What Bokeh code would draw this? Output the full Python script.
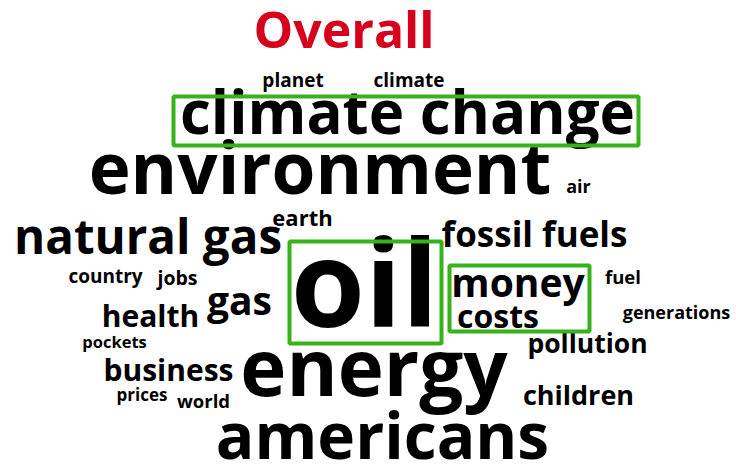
from bokeh.plotting import figure
from bokeh.models import ColumnDataSource, Range1d
from bokeh.core.properties import value
from bokeh.embed import file_html
from bokeh.resources import INLINE

# ---- data ----
title_text = ["Overall"]
title_size = [50]
title_x = [343.5]
title_y = [48]

words = ["planet", "climate", "climate change", "environment", "air", "earth",
         "natural gas", "fossil fuels", "oil", "money", "costs", "fuel",
         "generations", "country", "jobs", "gas", "health", "pockets",
         "pollution", "business", "energy", "prices", "world", "children",
         "americans"]
sizes = [19, 19, 60, 71, 18, 22,
         47.5, 35, 120, 39, 32, 18.5,
         18, 19, 19.5, 39, 30, 16.5,
         26.5, 30, 78, 17, 18.5, 27,
         64]
word_x = [292.5, 408.5, 407, 319.5, 578, 302,
          147.5, 534, 364, 517.5, 497.5, 622.5,
          676, 105, 177, 239, 150, 114,
          587, 168, 373.5, 141.5, 203, 578,
          382]
word_y = [87, 87, 134, 194, 193, 225,
          254, 247, 328, 297, 328, 283,
          319, 283, 285, 315, 327, 348,
          353, 381, 397, 401, 407, 405,
          460]

# highlighted terms (boxes)
hl_left = [173, 289, 449]
hl_right = [638, 441, 589]
hl_top = [96, 241, 265]
hl_bottom = [145, 343, 331]

FONT = "Open Sans"
BASELINE_SHIFT = 0.40  # compensate renderer's baseline placement (fraction of font size)

p = figure(width=736, height=474, output_backend="svg", toolbar_location=None,
           x_range=Range1d(0, 736), y_range=Range1d(474, 0),
           min_border=0, outline_line_color=None)
p.axis.visible = False
p.grid.visible = False
p.background_fill_color = "white"
p.border_fill_color = "white"

src = ColumnDataSource(dict(x=word_x, y=word_y, text=words,
                            fs=[f"{s}px" for s in sizes],
                            yo=[-BASELINE_SHIFT * s for s in sizes]))
p.text(x="x", y="y", text="text", source=src, text_font=value(FONT),
       text_font_size="fs", text_font_style="bold", text_color="black",
       text_align="center", text_baseline="alphabetic", y_offset="yo")

tsrc = ColumnDataSource(dict(x=title_x, y=title_y, text=title_text,
                             fs=[f"{s}px" for s in title_size],
                             yo=[-BASELINE_SHIFT * s for s in title_size]))
p.text(x="x", y="y", text="text", source=tsrc, text_font=value(FONT),
       text_font_size="fs", text_font_style="bold", text_color="#d6001c",
       text_align="center", text_baseline="alphabetic", y_offset="yo")

p.quad(left=hl_left, right=hl_right, top=hl_top, bottom=hl_bottom,
       fill_color=None, line_color="#38b21b", line_width=4)

open("out.html", "w").write(file_html(p, INLINE))
